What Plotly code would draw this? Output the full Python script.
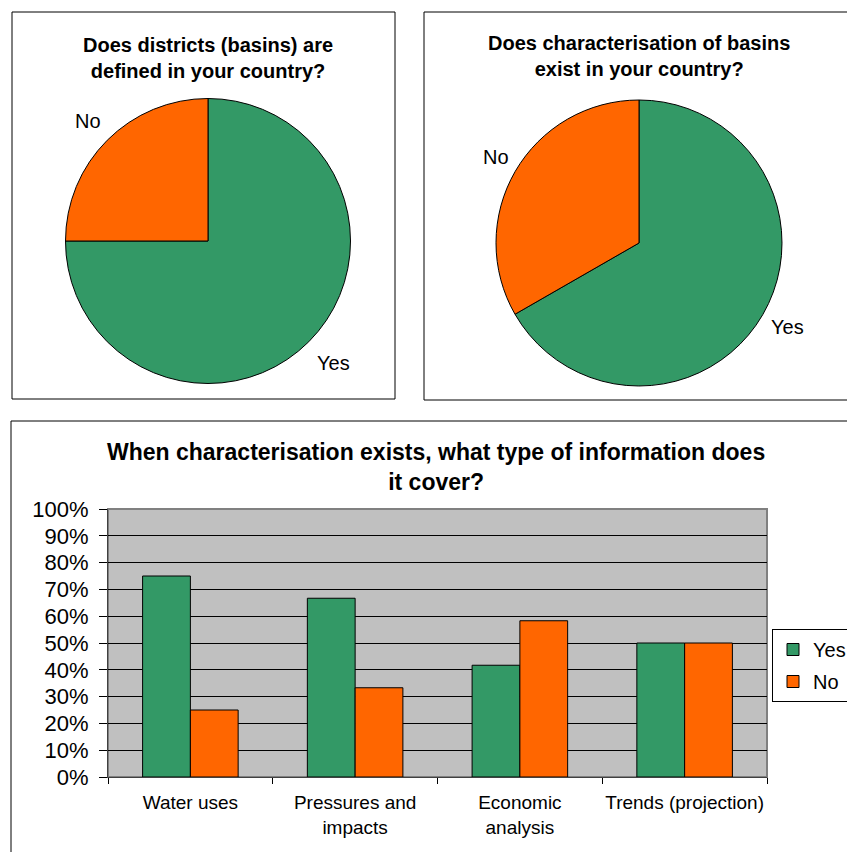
import plotly.graph_objects as go

W, H = 847, 852

# ---- data ----
pie_labels = ["Yes", "No"]
pie1_values = [75, 25]
pie2_values = [66.7, 33.3]
pie1_title = "Does districts (basins) are<br>defined in your country?"
pie2_title = "Does characterisation of basins<br>exist in your country?"

bar_title = "When characterisation exists, what type of information does<br>it cover?"
categories = ["Water uses", "Pressures and<br>impacts", "Economic<br>analysis", "Trends (projection)"]
series_names = ["Yes", "No"]
yes_values = [0.75, 0.667, 0.417, 0.50]
no_values = [0.25, 0.333, 0.583, 0.50]

GREEN = "#339966"
ORANGE = "#FF6600"
FONT = "Liberation Sans, Arial, sans-serif"


def px(x):
    return x / W


def py(y):
    return 1 - y / H


fig = go.Figure()

# pies
fig.add_trace(go.Pie(
    labels=pie_labels, values=pie1_values, sort=False, direction="clockwise", rotation=0,
    marker=dict(colors=[GREEN, ORANGE], line=dict(color="black", width=1)),
    textinfo="none", hoverinfo="label+percent", showlegend=False,
    domain=dict(x=[px(65.5), px(350.5)], y=[py(383.5), py(98.5)]),
))
fig.add_trace(go.Pie(
    labels=pie_labels, values=pie2_values, sort=False, direction="clockwise", rotation=0,
    marker=dict(colors=[GREEN, ORANGE], line=dict(color="black", width=1)),
    textinfo="none", hoverinfo="label+percent", showlegend=False,
    domain=dict(x=[px(496), px(782)], y=[py(386), py(100)]),
))

# bars
fig.add_trace(go.Bar(x=categories, y=yes_values, name=series_names[0], legendgroup="a",
                     marker=dict(color=GREEN, line=dict(color="black", width=1))))
fig.add_trace(go.Bar(x=categories, y=no_values, name=series_names[1], legendgroup="b",
                     marker=dict(color=ORANGE, line=dict(color="black", width=1))))

shapes = [
    dict(type="rect", xref="paper", yref="paper", x0=px(12), x1=px(395), y0=py(399), y1=py(12),
         line=dict(color="black", width=1)),
    dict(type="rect", xref="paper", yref="paper", x0=px(424), x1=px(870), y0=py(400), y1=py(12),
         line=dict(color="black", width=1)),
    dict(type="rect", xref="paper", yref="paper", x0=px(11), x1=px(870), y0=py(880), y1=py(421),
         line=dict(color="black", width=1)),
    dict(type="rect", xref="x domain", yref="y domain", x0=0, x1=1, y0=0, y1=1,
         line=dict(color="#808080", width=2), layer="below"),
]


def bold(t):
    return "<b>" + t.replace("<br>", "</b><br><b>") + "</b>"


annotations = [
    dict(text=bold(pie1_title), x=px(208), y=py(57.5), xref="paper", yref="paper", showarrow=False,
         xanchor="center", yanchor="middle", font=dict(size=20, family=FONT, color="black")),
    dict(text=bold(pie2_title), x=px(639), y=py(56), xref="paper", yref="paper", showarrow=False,
         xanchor="center", yanchor="middle", font=dict(size=20, family=FONT, color="black")),
    dict(text=bold(bar_title), x=px(436), y=py(467), xref="paper", yref="paper", showarrow=False,
         xanchor="center", yanchor="middle", font=dict(size=23, family=FONT, color="black")),
    dict(text=pie_labels[1], x=px(88), y=py(121), xref="paper", yref="paper", showarrow=False,
         xanchor="center", yanchor="middle", font=dict(size=20, family=FONT, color="black")),
    dict(text=pie_labels[0], x=px(333), y=py(363), xref="paper", yref="paper", showarrow=False,
         xanchor="center", yanchor="middle", font=dict(size=20, family=FONT, color="black")),
    dict(text=pie_labels[1], x=px(496), y=py(157), xref="paper", yref="paper", showarrow=False,
         xanchor="center", yanchor="middle", font=dict(size=20, family=FONT, color="black")),
    dict(text=pie_labels[0], x=px(787), y=py(327), xref="paper", yref="paper", showarrow=False,
         xanchor="center", yanchor="middle", font=dict(size=20, family=FONT, color="black")),
]

fig.update_layout(
    width=W, height=H,
    margin=dict(l=0, r=0, t=0, b=0, autoexpand=False),
    paper_bgcolor="white",
    plot_bgcolor="#C0C0C0",
    font=dict(family=FONT, color="black"),
    barmode="group", bargap=0.42, bargroupgap=0,
    shapes=shapes,
    annotations=annotations,
    legend=dict(x=px(772), y=py(629), xanchor="left", yanchor="top",
                bordercolor="black", borderwidth=1, bgcolor="white",
                font=dict(size=20, family=FONT, color="black"),
                tracegroupgap=3, itemwidth=30),
    xaxis=dict(domain=[px(108), px(767)], showline=True, linecolor="#404040", linewidth=1,
               ticks="outside", ticklen=6, tickcolor="black", tickson="boundaries",
               tickangle=0, ticklabelstandoff=8, showgrid=False,
               tickfont=dict(size=19, family=FONT, color="black"), fixedrange=True),
    yaxis=dict(domain=[py(777), py(509)], range=[0, 1], dtick=0.1, tickformat=".0%",
               showline=True, linecolor="#404040", linewidth=1,
               ticks="outside", ticklen=8, tickcolor="black", ticklabelstandoff=6,
               showgrid=True, gridcolor="black", gridwidth=1, zeroline=False,
               tickfont=dict(size=22, family=FONT, color="black"), fixedrange=True),
)

fig.write_html("out.html")
